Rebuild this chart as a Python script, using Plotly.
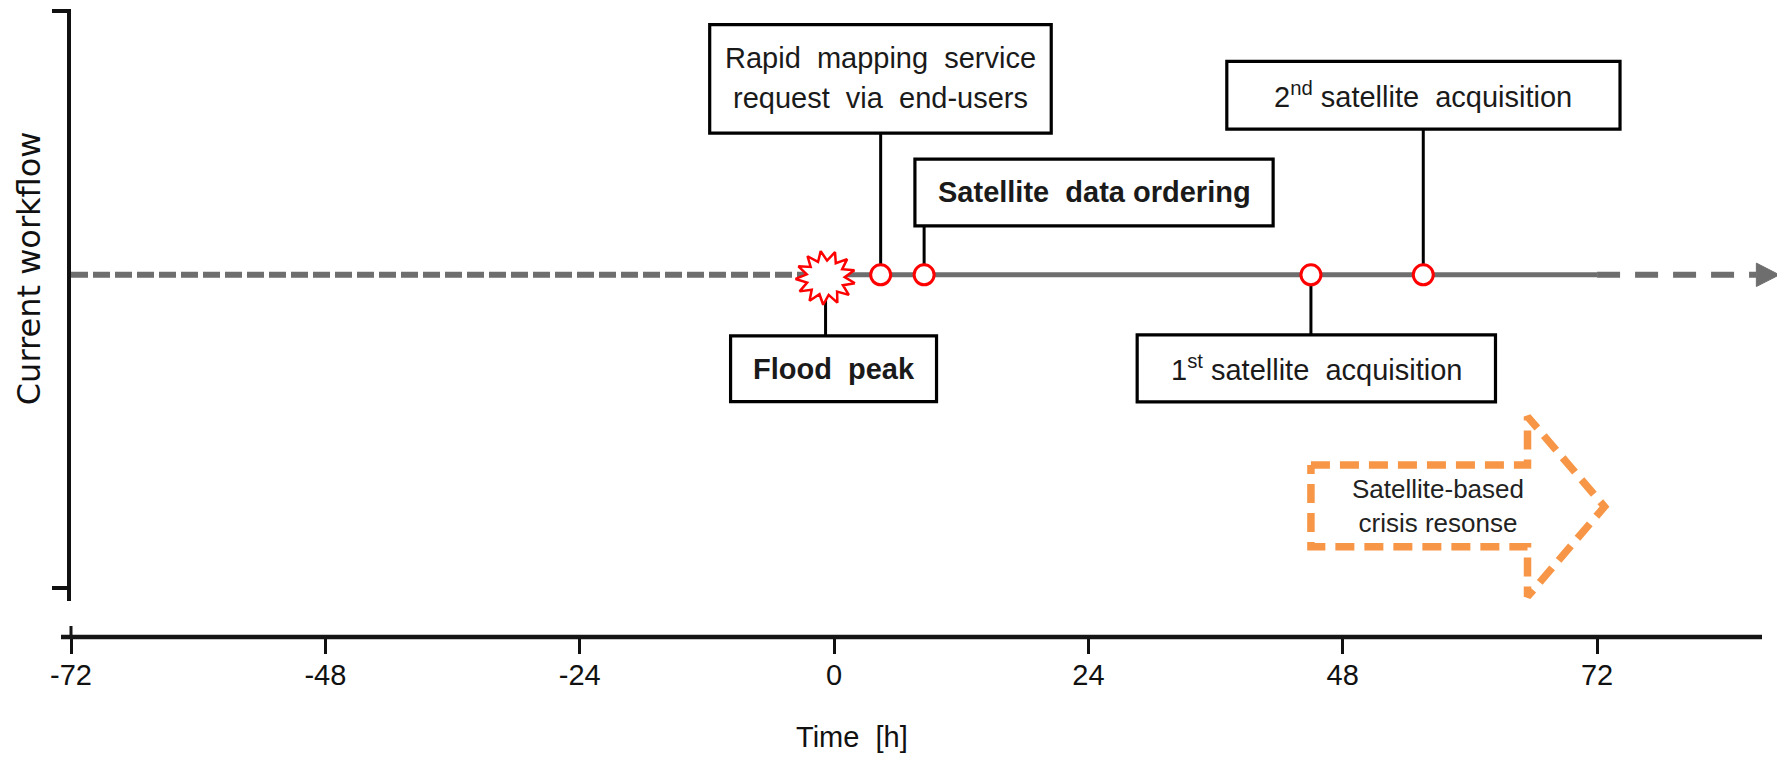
import plotly.graph_objects as go
import numpy as np

# ---------------- data ----------------
event_labels = [
    "<b>Flood  peak</b>",
    "Rapid  mapping  service",
    "<b>Satellite  data ordering</b>",
    "1<sup>st</sup> satellite  acquisition",
    "2<sup>nd</sup> satellite  acquisition",
]
rapid_second_line = "request  via  end-users"
event_times = [-0.8, 4.4, 8.5, 45.0, 55.6]   # hours
timeline_start = -72
timeline_solid_end = 72
timeline_arrow_end = 89.2
response_start = 45.0
response_end = 72.7
response_label = "Satellite-based<br>crisis resonse"
x_tick_vals = [-72, -48, -24, 0, 24, 48, 72]
x_tick_text = ["-72", "-48", "-24", "0", "24", "48", "72"]
x_title = "Time  [h]"
y_title = "Current workflow"

# ---------------- layout constants ----------------
OFF = 8                                  # default page margin of the html body
W, H = 1785 - OFF, 757 - OFF
ML, MR, MT, MB = 70.6 - OFF, 3, 9.3 - OFF, 120
XR = [-72, 89.45]
plot_w = W - ML - MR
plot_h = H - MT - MB
PXH = plot_w / (XR[1] - XR[0])          # pixels per hour
Y_TOP, Y_BOT = 9.3, 600.7               # y axis in reference pixel units (from top)
y_dom0 = (637 - Y_BOT) / (637 - Y_TOP)
TL_Y = 275                               # timeline level

GRAY = "#6e6e6e"
RED = "#ff0000"
ORANGE = "#f79646"
SANS = "Liberation Sans, Arial, sans-serif"
FS = 29


def hours(dpx):
    return dpx / PXH


fig = go.Figure()

# timeline: dashed past, solid, dashed future + arrowhead
fig.add_trace(go.Scatter(x=[timeline_start, event_times[0]], y=[TL_Y, TL_Y], mode="lines",
                         line=dict(color=GRAY, width=6, dash="17px,5px"), hoverinfo="skip"))
fig.add_trace(go.Scatter(x=[event_times[0], timeline_solid_end], y=[TL_Y, TL_Y], mode="lines",
                         line=dict(color=GRAY, width=5), hoverinfo="skip"))
head_len = hours(23)
fig.add_trace(go.Scatter(x=[timeline_solid_end, timeline_arrow_end - head_len], y=[TL_Y, TL_Y], mode="lines",
                         line=dict(color=GRAY, width=6, dash="23px,15px"), hoverinfo="skip"))
fig.add_trace(go.Scatter(x=[timeline_arrow_end - head_len, timeline_arrow_end, timeline_arrow_end - head_len,
                            timeline_arrow_end - head_len],
                         y=[TL_Y - 11.7, TL_Y, TL_Y + 11.7, TL_Y - 11.7], mode="lines", fill="toself",
                         fillcolor=GRAY, line=dict(color=GRAY, width=1), hoverinfo="skip"))

# flood peak burst
n_sp = 13
ang = np.linspace(0, 2 * np.pi, 2 * n_sp + 1)
rad = np.where(np.arange(2 * n_sp + 1) % 2 == 0, 1.0, 0.64)
sx = event_times[0] + hours(30) * rad * np.cos(ang + 0.2)
sy = TL_Y + 3 + 27 * rad * np.sin(ang + 0.2)
fig.add_trace(go.Scatter(x=sx, y=sy, mode="lines", fill="toself", fillcolor="white",
                         line=dict(color=RED, width=2.5), hoverinfo="skip"))

# event circles
fig.add_trace(go.Scatter(x=event_times[1:], y=[TL_Y] * 4, mode="markers",
                         marker=dict(symbol="circle", size=20, color="white",
                                     line=dict(color=RED, width=3)), hoverinfo="skip"))

# satellite-based response arrow (dashed outline)
head_base = response_end - hours(77)
ax = [response_start, head_base, head_base, response_end, head_base, head_base, response_start, response_start]
ay = [465, 465, 416.7, 506.7, 596.7, 546.7, 546.7, 465]
fig.add_trace(go.Scatter(x=ax, y=ay, mode="lines", line=dict(color=ORANGE, width=7.5, dash="19px,10px"),
                         hoverinfo="skip"))

shapes = []
annotations = []

# boxes: (event index, left px offset, right px offset, top, bottom)
boxes = [
    (0, -95, 111, 336, 401.7),
    (1, -171, 170.6, 25, 133.3),
    (2, -9.2, 349.1, 159.3, 226),
    (3, -173.8, 184.6, 335, 402),
    (4, -196.5, 196.8, 61.7, 129.3),
]
for idx, lo, hi, top, bot in boxes:
    t = event_times[idx]
    x0, x1 = t + hours(lo), t + hours(hi)
    shapes.append(dict(type="rect", xref="x", yref="y", x0=x0, x1=x1, y0=top, y1=bot,
                       line=dict(color="black", width=3.2), layer="above"))
    if bot < TL_Y:
        shapes.append(dict(type="line", xref="x", yref="y", x0=t, x1=t, y0=bot, y1=TL_Y,
                           line=dict(color="black", width=3), layer="below"))
    else:
        shapes.append(dict(type="line", xref="x", yref="y", x0=t, x1=t, y0=TL_Y, y1=top,
                           line=dict(color="black", width=3), layer="below"))
    xc = (x0 + x1) / 2
    if idx == 1:
        annotations.append(dict(x=xc, y=58.3, xref="x", yref="y", text=event_labels[idx], showarrow=False,
                                font=dict(family=SANS, size=FS, color="#1a1a1a")))
        annotations.append(dict(x=xc, y=98.3, xref="x", yref="y", text=rapid_second_line, showarrow=False,
                                font=dict(family=SANS, size=FS, color="#1a1a1a")))
    else:
        annotations.append(dict(x=xc, y=(top + bot) / 2, xref="x", yref="y", text=event_labels[idx],
                                showarrow=False, font=dict(family=SANS, size=FS, color="#1a1a1a")))

# response label
annotations.append(dict(x=response_start + hours(127.5), y=506, xref="x", yref="y", text=response_label,
                        showarrow=False, font=dict(family=SANS, size=26, color="#222222")))

# axis titles
annotations.append(dict(x=(28 - 70.6) / plot_w, y=268, xref="paper", yref="y", text=y_title, textangle=-90,
                        showarrow=False, xanchor="center", yanchor="middle",
                        font=dict(family="DejaVu Sans, sans-serif", size=32, color="#111111")))
annotations.append(dict(x=timeline_start + hours(851.7 - 70.6), y=0, xref="x", yref="paper", yshift=-99.7,
                        text=x_title, showarrow=False, yanchor="middle",
                        font=dict(family=SANS, size=FS, color="#111111")))

# x axis line (drawn as a shape) and the small cross tick at the origin
shapes.append(dict(type="line", xref="paper", yref="paper", x0=-10 / plot_w, x1=(1762 - 70.6) / plot_w,
                   y0=0, y1=0, line=dict(color="#151515", width=4.5)))
shapes.append(dict(type="line", xref="paper", yref="paper", x0=0, x1=0, y0=0, y1=11 / plot_h,
                   line=dict(color="#151515", width=3)))

fig.update_layout(
    width=W, height=H,
    margin=dict(l=ML, r=MR, t=MT, b=MB, pad=0),
    paper_bgcolor="white", plot_bgcolor="white",
    showlegend=False,
    shapes=shapes, annotations=annotations,
    xaxis=dict(range=XR, anchor="free", position=0, showgrid=False, zeroline=False, showline=False,
               tickmode="array", tickvals=x_tick_vals, ticktext=x_tick_text,
               ticks="outside", ticklen=16, tickwidth=3, tickcolor="#111111", ticklabelstandoff=-4,
               tickfont=dict(family=SANS, size=FS, color="#111111")),
    yaxis=dict(range=[Y_BOT, Y_TOP], domain=[y_dom0, 1], showgrid=False, zeroline=False,
               showline=True, linewidth=3.5, linecolor="#111111",
               tickmode="array", tickvals=[11.7, 588.3], ticks="outside", ticklen=15, tickwidth=3.5,
               tickcolor="#111111", showticklabels=False),
)

fig.write_html("out.html")
